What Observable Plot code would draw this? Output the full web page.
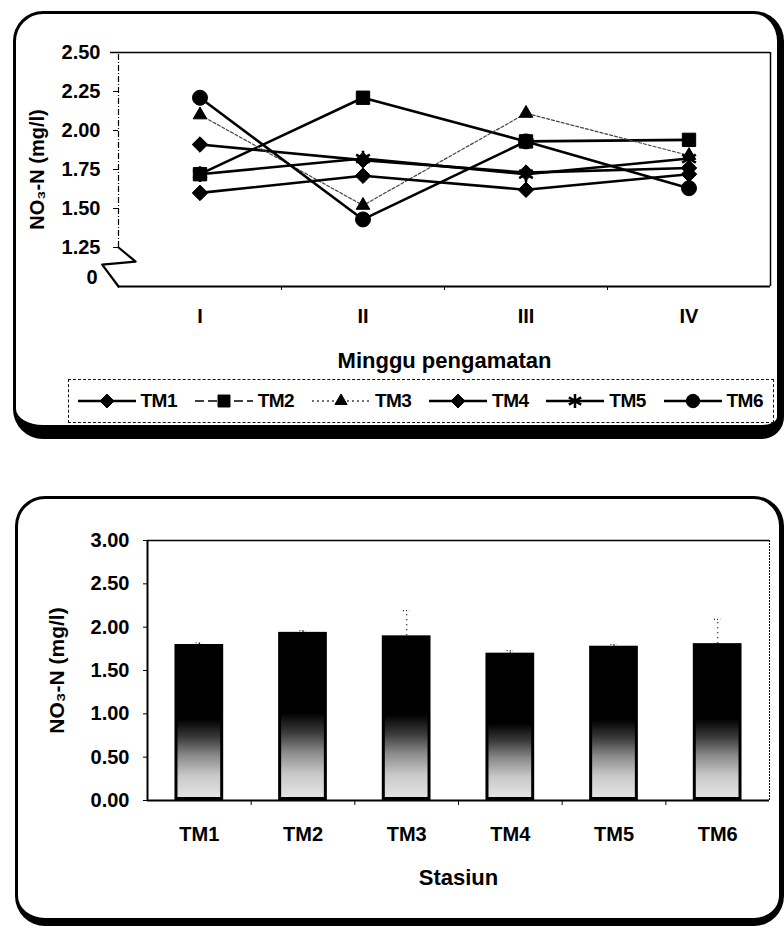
<!DOCTYPE html>
<html>
<head>
<meta charset="utf-8">
<script src="https://cdn.jsdelivr.net/npm/d3@7"></script>
<script src="https://cdn.jsdelivr.net/npm/@observablehq/plot@0.6"></script>
<style>
  html, body { margin: 0; padding: 0; background: #fff; }
  #page { position: relative; width: 784px; height: 929px; overflow: hidden;
          font-family: "Liberation Sans", Arial, sans-serif; font-weight: bold; }
  .panel { position: absolute; box-sizing: border-box; border: 3px solid #000; background: #fff; }
  #panelTop { left: 13px; top: 11px; width: 771px; height: 428px;
              border-right-width: 7px; border-bottom-width: 14px; border-radius: 30px 30px 22px 30px; }
  #panelBottom { left: 15px; top: 496px; width: 769px; height: 430px;
                 border-right-width: 5px; border-bottom-width: 8px; border-radius: 30px; }
  .chart { position: absolute; left: 0; }
  #legend { position: absolute; left: 68px; top: 379px; width: 706px; height: 44px;
            box-sizing: border-box; border: 1.5px dashed #111; background: #fff; }
  .item { position: absolute; top: 0; height: 100%; display: flex; align-items: center; }
  .item span { font-size: 19px; margin-left: 3px; letter-spacing: -0.5px; }
</style>
</head>
<body>
<div id="page">
  <div class="panel" id="panelTop"></div>
  <div class="panel" id="panelBottom"></div>
  <div class="chart" id="lineChart" style="top:0px"></div>
  <div id="legend"></div>
  <div class="chart" id="barChart" style="top:470px"></div>
</div>
<script>
// Weekly nitrate (NO3-N, mg/l) at six stations
const weeks = ["I", "II", "III", "IV"];
const stations = ["TM1", "TM2", "TM3", "TM4", "TM5", "TM6"];
const tm1 = [1.91, 1.81, 1.73, 1.76];
const tm2 = [1.72, 2.21, 1.93, 1.94];
const tm3 = [2.10, 1.52, 2.11, 1.84];
const tm4 = [1.60, 1.71, 1.62, 1.72];
const tm5 = [1.72, 1.82, 1.72, 1.82];
const tm6 = [2.21, 1.43, 1.93, 1.63];

// Station means with error bars
const stationMeans = [1.80, 1.94, 1.90, 1.70, 1.78, 1.81];
const stationErrors = [0.02, 0.02, 0.29, 0.03, 0.02, 0.28];

const lineTicks = [1.25, 1.5, 1.75, 2.0, 2.25, 2.5];
const barTicks = [0, 0.5, 1.0, 1.5, 2.0, 2.5, 3.0];

const weekSeries = [tm1, tm2, tm3, tm4, tm5, tm6];
const yTitle = "NO\u2083-N (mg/l)";

// Marker and stroke style per station
const seriesStyle = {
  TM1: {symbol: "diamond2", r: 7, width: 2.6, dash: null, color: "#000", legendDash: null},
  TM2: {symbol: "square2", r: 8.5, width: 2.6, dash: null, color: "#000", legendDash: "9,4"},
  TM3: {symbol: "triangle2", r: 6.5, width: 1.2, dash: "3,2", color: "#444", legendDash: "2,3"},
  TM4: {symbol: "diamond2", r: 7, width: 2.6, dash: null, color: "#000", legendDash: null},
  TM5: {symbol: "asterisk", r: 7.5, width: 2.6, dash: null, color: "#000", legendDash: null},
  TM6: {symbol: "circle", r: 7.5, width: 2.6, dash: null, color: "#000", legendDash: null}
};

const rows = stations.flatMap((s, k) =>
  weekSeries[k].map((v, i) => ({station: s, week: i + 1, value: v})));

const fontStack = '"Liberation Sans", Arial, sans-serif';

// ---------- Line chart ----------
const seriesMarks = stations.flatMap((s) => {
  const st = seriesStyle[s];
  const d = rows.filter((r) => r.station === s);
  const stroked = st.symbol === "asterisk";
  return [
    Plot.line(d, {x: "week", y: "value", stroke: st.color, strokeWidth: st.width,
                  strokeDasharray: st.dash, curve: "linear"}),
    Plot.dot(d, {x: "week", y: "value", symbol: () => st.symbol, r: st.r,
                 fill: stroked ? "none" : "#000", stroke: "#000",
                 strokeWidth: stroked ? 2.6 : 1})
  ];
});

const lineChart = Plot.plot({
  width: 784,
  height: 375,
  marginLeft: 118,
  marginRight: 14,
  marginTop: 52,
  marginBottom: 89,
  x: {domain: [0.5, 4.5]},
  y: {domain: [1.0, 2.5]},
  symbol: {type: "identity"},
  style: {fontFamily: fontStack, fontWeight: "bold", background: "transparent", color: "#000", overflow: "visible"},
  marks: [
    // frame: solid top and right, dash-dot left side, solid base line
    Plot.ruleY([2.5], {x1: 0.5, x2: 4.5, insetLeft: -8, stroke: "#000", strokeWidth: 1.5}),
    Plot.ruleX([4.5], {y1: 1.0, y2: 2.5, stroke: "#000", strokeWidth: 1.5}),
    Plot.ruleX([0.5], {y1: 1.25, y2: 2.5, stroke: "#000", strokeWidth: 1.2, strokeDasharray: "6,2,1,2"}),
    Plot.ruleY([1.0], {x1: 0.5, x2: 4.5, stroke: "#000", strokeWidth: 2}),
    // axis break
    Plot.line([{x: 0.5, y: 1.25}, {x: 0.605, y: 1.16}, {x: 0.4, y: 1.14}, {x: 0.5, y: 1.0}],
              {x: "x", y: "y", stroke: "#000", strokeWidth: 2.2}),
    Plot.axisY(lineTicks, {tickSize: 5, tickPadding: 13, fontSize: 20,
                           tickFormat: d3.format(".2f"), label: null}),
    Plot.axisY([1.0], {tickSize: 0, tickPadding: 21, dy: -9, fontSize: 20,
                       tickFormat: () => "0", label: null}),
    Plot.axisX([1.5, 2.5, 3.5], {tickSize: 4, tickFormat: () => "", label: null}),
    Plot.axisX([1, 2, 3, 4], {tickSize: 0, tickPadding: 22, fontSize: 20,
                              tickFormat: (i) => weeks[i - 1], label: null}),
    Plot.text(["Minggu pengamatan"], {frameAnchor: "bottom", dy: 74, fontSize: 22,
                                      lineAnchor: "middle", letterSpacing: "1px"}),
    Plot.text([yTitle], {frameAnchor: "left", dx: -81, rotate: -90, fontSize: 20,
                         textAnchor: "middle", lineAnchor: "middle"}),
    ...seriesMarks
  ]
});
document.getElementById("lineChart").appendChild(lineChart);

// ---------- Legend ----------
const legend = document.getElementById("legend");
stations.forEach((s, i) => {
  const st = seriesStyle[s];
  const markerX = 107 + i * 117.2;
  const item = document.createElement("div");
  item.className = "item";
  item.style.left = (markerX - 31 - 69.5) + "px";
  const sw = d3.create("svg").attr("width", 62).attr("height", 20);
  sw.append("line").attr("x1", 2).attr("x2", 60).attr("y1", 10).attr("y2", 10)
    .attr("stroke", st.color).attr("stroke-width", st.legendDash ? 1.5 : 2.6)
    .attr("stroke-dasharray", st.legendDash);
  const symType = {diamond2: d3.symbolDiamond2, square2: d3.symbolSquare2,
                   triangle2: d3.symbolTriangle2, asterisk: d3.symbolAsterisk,
                   circle: d3.symbolCircle}[st.symbol];
  const stroked = st.symbol === "asterisk";
  sw.append("path")
    .attr("transform", "translate(31,10)")
    .attr("d", d3.symbol(symType, Math.PI * st.r * st.r * 0.8)())
    .attr("fill", stroked ? "none" : "#000")
    .attr("stroke", "#000")
    .attr("stroke-width", stroked ? 2.5 : 1);
  item.appendChild(sw.node());
  const label = document.createElement("span");
  label.textContent = s;
  item.appendChild(label);
  legend.appendChild(item);
});

// ---------- Bar chart ----------
const barRows = stations.map((s, i) => ({
  station: s, i, mean: stationMeans[i], err: stationErrors[i]
}));
const halfBar = 0.235;

const barChart = Plot.plot({
  width: 784,
  height: 420,
  marginLeft: 147,
  marginRight: 15,
  marginTop: 70,
  marginBottom: 90,
  x: {domain: [0, 6]},
  y: {domain: [0, 3]},
  style: {fontFamily: fontStack, fontWeight: "bold", background: "transparent", color: "#000", overflow: "visible"},
  marks: [
    Plot.ruleY([3], {stroke: "#000", strokeWidth: 1.5}),
    Plot.ruleX([6], {stroke: "#000", strokeWidth: 1, strokeDasharray: "2,1"}),
    Plot.rectY(barRows, {x1: (d) => d.i + 0.5 - halfBar, x2: (d) => d.i + 0.5 + halfBar,
                         y1: 0, y2: "mean", fill: "url(#barShade)", stroke: "#000",
                         strokeWidth: 3, inset: 1.5}),
    Plot.ruleX(barRows, {x: (d) => d.i + 0.5, y1: "mean", y2: (d) => d.mean + d.err,
                         stroke: "#222", strokeWidth: 1.5, strokeDasharray: "1,4"}),
    Plot.ruleY(barRows, {y: (d) => d.mean + d.err, x1: (d) => d.i + 0.47, x2: (d) => d.i + 0.53,
                         stroke: "#222", strokeWidth: 1.2, strokeDasharray: "1,2"}),
    Plot.ruleX([0], {stroke: "#000", strokeWidth: 2}),
    Plot.ruleY([0], {stroke: "#000", strokeWidth: 2}),
    Plot.axisY(barTicks, {tickSize: 4, tickPadding: 14, fontSize: 20,
                          tickFormat: d3.format(".2f"), label: null}),
    Plot.axisX([1, 2, 3, 4, 5], {tickSize: 5, tickFormat: () => "", label: null}),
    Plot.axisX(barRows.map((d) => d.i + 0.5), {tickSize: 0, tickPadding: 26, fontSize: 20,
                          tickFormat: (v) => stations[Math.round(v - 0.5)], label: null}),
    Plot.text(["Stasiun"], {frameAnchor: "bottom", dy: 77, fontSize: 22, lineAnchor: "middle"}),
    Plot.text([yTitle], {frameAnchor: "left", dx: -90, rotate: -90, fontSize: 21,
                         textAnchor: "middle", lineAnchor: "middle"})
  ]
});

// vertical shading used to fill the bars: dark above, fading to light at the base
const defs = d3.select(barChart).insert("defs", ":first-child");
const grad = defs.append("linearGradient").attr("id", "barShade")
  .attr("x1", 0).attr("y1", 0).attr("x2", 0).attr("y2", 1);
[[0, "#000"], [0.48, "#000"], [0.6, "#3a3a3a"], [0.72, "#8a8a8a"], [0.85, "#c8c8c8"], [1, "#e6e6e6"]]
  .forEach(([o, c]) => grad.append("stop").attr("offset", o).attr("stop-color", c));

document.getElementById("barChart").appendChild(barChart);
</script>
</body>
</html>
